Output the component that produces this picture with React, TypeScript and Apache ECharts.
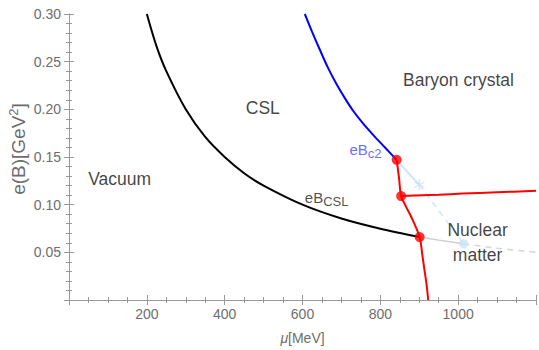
import React, { useEffect, useRef } from "react";
import * as echarts from "echarts";

// Boundary eB_CSL (solid black part), mu [MeV], eB [GeV^2]
const cslCurve: [number, number][] = [
  [200, 0.3], [225, 0.266], [250, 0.24], [300, 0.2], [350, 0.171], [400, 0.15],
  [450, 0.133], [500, 0.12], [600, 0.1], [700, 0.0855], [800, 0.0748], [901, 0.066],
];
// continuation of eB_CSL (light grey solid then dashed)
const cslGreySolid: [number, number][] = [[901, 0.066], [950, 0.0628], [1014, 0.059]];
const cslGreyDashed: [number, number][] = [[1014, 0.059], [1100, 0.0543], [1200, 0.0501]];

// Boundary eB_c2 (blue)
const c2Curve: [number, number][] = [
  [606, 0.3], [625, 0.281], [644, 0.263], [665, 0.244], [688, 0.226], [710, 0.211],
  [731, 0.198], [756, 0.185], [782, 0.173], [812, 0.16], [842, 0.147],
];
// continuation of eB_c2 (light blue)
const c2LightSolid: [number, number][] = [[842, 0.147], [870, 0.134], [900, 0.121]];
const c2LightDashed: [number, number][] = [[900, 0.121], [957, 0.09], [1014, 0.059]];

// Red first-order lines
const redVertical: [number, number][] = [
  [842, 0.147], [848, 0.128], [853.5, 0.109], [866, 0.098], [879, 0.0876],
  [901, 0.066], [908, 0.047], [913, 0.0327], [919, 0.0155], [923, 0],
];
const redHorizontal: [number, number][] = [
  [853.5, 0.109], [950, 0.1105], [1010, 0.1116], [1100, 0.113], [1200, 0.1145],
];
const redPoints: [number, number][] = [[842, 0.147], [853.5, 0.109], [901, 0.066]];
const starPoint: [number, number][] = [[900, 0.121]];
const nmPoint: [number, number][] = [[1014, 0.059]];

// tick labels
const xTicks = [200, 400, 600, 800, 1000];
const yTicks = [0.05, 0.1, 0.15, 0.2, 0.25, 0.3];

// region annotations [mu, eB, text]
const annotations: [number, number, string][] = [
  [130, 0.127, "Vacuum"],
  [498, 0.201, "CSL"],
  [1001, 0.231, "Baryon crystal"],
  [1050, 0.0603, "Nuclear\nmatter"],
];
const curveLabels: [number, number, string][] = [
  [662, 0.108, "{b|eB}{sub|CSL}"],
  [762, 0.158, "{bb|eB}{subb|c2}"],
];

const FONT = "Liberation Sans, Arial, sans-serif";
const STAR =
  "path://M-1,-10L1,-10L1,10L-1,10Z M8.16,-5.87L9.16,-4.13L-8.16,5.87L-9.16,4.13Z M-9.16,-4.13L-8.16,-5.87L9.16,4.13L8.16,5.87Z";

export default function App() {
  const ref = useRef<HTMLDivElement>(null);
  useEffect(() => {
    if (!ref.current) return;
    const chart = echarts.init(ref.current, undefined, { renderer: "svg" });
    const axisColor = "#999999";
    const labelColor = "#6e6e6e";
    const line = (data: [number, number][], color: string, width: number, dashed = false, smooth: number | boolean = 0.3) => ({
      type: "line",
      data,
      showSymbol: false,
      symbol: "none",
      smooth,
      lineStyle: { color, width, type: dashed ? [6, 5] : "solid" },
      silent: true,
      z: 3,
    });
    chart.setOption({
      animation: false,
      textStyle: { fontFamily: FONT },
      grid: { left: 69, top: 14, width: 472, height: 291, containLabel: false },
      xAxis: [
        {
          type: "value",
          min: 0,
          max: 1200,
          interval: 200,
          position: "bottom",
          name: "{i|μ}[MeV]",
          nameLocation: "middle",
          nameGap: 31,
          nameTextStyle: { color: labelColor, fontSize: 14, fontFamily: FONT, rich: { i: { fontStyle: "italic", fontSize: 14, color: labelColor, fontFamily: FONT } } },
          axisLine: { show: true, lineStyle: { color: axisColor, width: 1 } },
          axisTick: { show: true, inside: true, length: 5, lineStyle: { color: axisColor } },
          minorTick: { show: true, splitNumber: 4, length: 3, lineStyle: { color: axisColor } },
          axisLabel: {
            color: labelColor,
            fontSize: 14,
            fontFamily: FONT,
            margin: 7,
            formatter: (v: number) => (xTicks.includes(v) ? String(v) : ""),
          },
          splitLine: { show: false },
        },
        {
          type: "value",
          min: 0,
          max: 1200,
          interval: 200,
          position: "top",
          axisLine: { show: true, lineStyle: { color: axisColor, width: 1 } },
          axisTick: { show: true, inside: true, length: 5, lineStyle: { color: axisColor } },
          minorTick: { show: true, splitNumber: 4, length: 3, lineStyle: { color: axisColor } },
          axisLabel: { show: false },
          splitLine: { show: false },
        },
      ],
      yAxis: [
        {
          type: "value",
          min: 0,
          max: 0.3,
          interval: 0.05,
          position: "left",
          axisLine: { show: true, lineStyle: { color: axisColor, width: 1 } },
          axisTick: { show: true, inside: true, length: 5, lineStyle: { color: axisColor } },
          minorTick: { show: true, splitNumber: 5, length: 3, lineStyle: { color: axisColor } },
          axisLabel: {
            color: labelColor,
            fontSize: 14,
            fontFamily: FONT,
            margin: 8,
            formatter: (v: number) => {
              const t = yTicks.find((y) => Math.abs(y - v) < 1e-9);
              return t === undefined ? "" : t.toFixed(2);
            },
          },
          splitLine: { show: false },
        },
        {
          type: "value",
          min: 0,
          max: 0.3,
          interval: 0.05,
          position: "right",
          axisLine: { show: true, lineStyle: { color: axisColor, width: 1 } },
          axisTick: { show: true, inside: true, length: 5, lineStyle: { color: axisColor } },
          minorTick: { show: true, splitNumber: 5, length: 3, lineStyle: { color: axisColor } },
          axisLabel: { show: false },
          splitLine: { show: false },
        },
      ],
      graphic: [
        {
          type: "text",
          x: 18,
          y: 149,
          rotation: Math.PI / 2,
          style: {
            text: "e(B)[GeV{s|2}]",
            fill: labelColor,
            fontSize: 19,
            fontFamily: FONT,
            align: "center",
            verticalAlign: "middle",
            rich: {
              s: { fontSize: 13, fill: labelColor, fontFamily: FONT, padding: [0, 0, 10, 0] },
            },
          },
        },
      ],
      series: [
        line(cslGreySolid, "#cccccc", 1.5, false, false),
        line(cslGreyDashed, "#d6d6d6", 1.5, true, 0.3),
        line(c2LightSolid, "#cfe5fb", 2, false, false),
        line(c2LightDashed, "#cfe5fb", 1.5, true, false),
        line(cslCurve, "#000000", 2),
        line(c2Curve, "#0000ff", 2),
        line(redVertical, "#ff0000", 2, false, 0.3),
        line(redHorizontal, "#ff0000", 2, false, 0.3),
        {
          type: "scatter",
          data: starPoint,
          symbol: STAR,
          symbolSize: 11,
          itemStyle: { color: "#c4dff8" },
          z: 4,
        },
        {
          type: "scatter",
          data: nmPoint,
          symbol: "circle",
          symbolSize: 9,
          itemStyle: { color: "#c8e2f8" },
          z: 4,
        },
        {
          type: "scatter",
          data: redPoints,
          symbol: "circle",
          symbolSize: 10,
          itemStyle: { color: "#ff0000" },
          z: 6,
        },
        {
          type: "scatter",
          data: annotations.map((a) => ({ value: [a[0], a[1]], name: a[2] })),
          symbolSize: 1,
          itemStyle: { color: "rgba(0,0,0,0)" },
          label: {
            show: true,
            position: "inside",
            formatter: (p: any) => p.name,
            color: "#111111",
            fontSize: 17.5,
            lineHeight: 25,
            align: "center",
            verticalAlign: "middle",
            fontFamily: FONT,
          },
          z: 7,
        },
        {
          type: "scatter",
          data: curveLabels.map((a) => ({ value: [a[0], a[1]], name: a[2] })),
          symbolSize: 1,
          itemStyle: { color: "rgba(0,0,0,0)" },
          label: {
            show: true,
            position: "inside",
            formatter: (p: any) => p.name,
            align: "center",
            verticalAlign: "middle",
            fontFamily: FONT,
            rich: {
              b: { fontSize: 15, color: "#222222", fontFamily: FONT },
              sub: { fontSize: 13, color: "#222222", fontFamily: FONT, padding: [9, 0, 0, 0] },
              bb: { fontSize: 15, color: "#4545ff", fontFamily: FONT },
              subb: { fontSize: 13, color: "#4545ff", fontFamily: FONT, padding: [9, 0, 0, 0] },
            },
          },
          z: 7,
        },
      ],
    });
    return () => chart.dispose();
  }, []);
  return (
    <div
      ref={ref}
      style={{ position: "fixed", left: 0, top: 0, width: 539, height: 350, background: "#ffffff" }}
    />
  );
}
